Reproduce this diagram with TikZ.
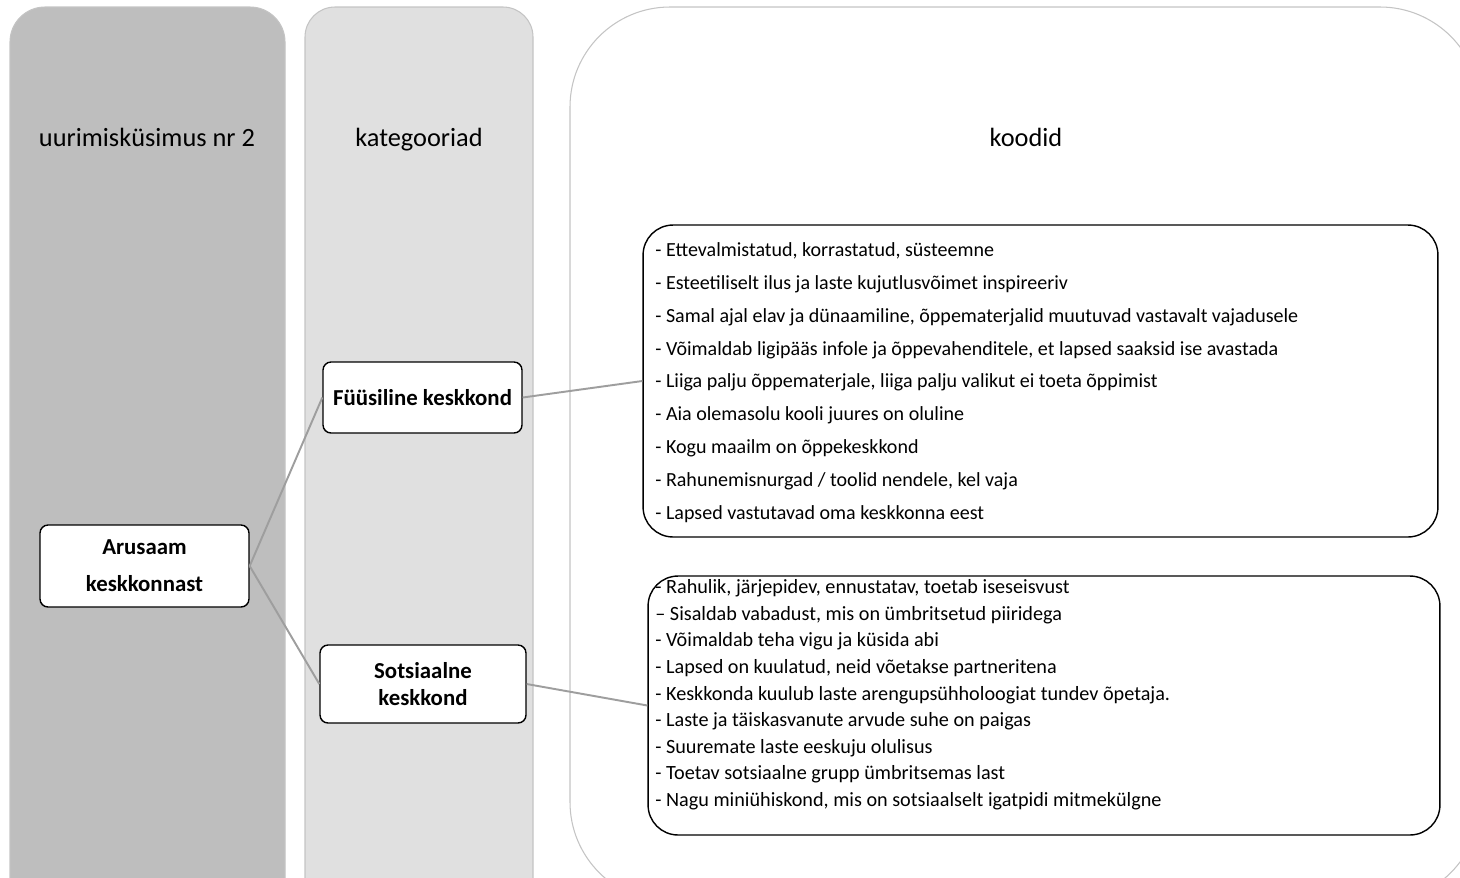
\documentclass[tikz,border=0pt]{standalone}
\usepackage{fontspec}
\setmainfont{Carlito}
\usepackage{xcolor}
\definecolor{colonedark}{HTML}{BEBEBE}
\definecolor{coltwolight}{HTML}{E0E0E0}
\definecolor{colframe}{HTML}{C4C4C4}
\definecolor{linkgray}{HTML}{9E9E9E}

\begin{document}
\begin{tikzpicture}[
  x=0.02cm,
  y=-0.02cm,
  column/.style={
    draw=colframe,
    line width=0.6pt
  },
  heading/.style={
    anchor=base,
    font=\fontsize{15}{18}\selectfont
  },
  catbox/.style={
    draw=black,
    fill=white,
    line width=0.8pt,
    rounded corners=0.16cm,
    align=center,
    inner sep=0pt,
    font=\bfseries\fontsize{13}{15}\selectfont
  },
  codebox/.style={
    draw=black,
    fill=white,
    line width=0.8pt,
    rounded corners=0.6cm,
    inner sep=0pt
  },
  codelist/.style={
    align=left,
    inner sep=0pt,
    anchor=north west
  },
  link/.style={
    draw=linkgray,
    line width=1.1pt
  }
]
  \useasboundingbox (0,0) rectangle (1460,877);
  \clip (0,0) rectangle (1460,877);

  \draw[column,fill=colonedark,rounded corners=0.7cm] (10,7) rectangle (285,960);
  \draw[column,fill=coltwolight,rounded corners=0.6cm] (305,7) rectangle (533,960);
  \draw[column,fill=white,rounded corners=2cm] (570,7) rectangle (1480,902);

  \node[heading] (hquestion) at (147,146) {uurimisküsimus nr 2};
  \node[heading] (hcategory) at (419,146) {kategooriad};
  \node[heading] (hcodes) at (1026,146) {koodid};

  \node[catbox,minimum width=4.18cm,minimum height=1.64cm,
    font=\bfseries\fontsize{13}{21}\selectfont] (arusaam) at (144.5,566)
    {Arusaam\\keskkonnast};
  \node[catbox,minimum width=3.98cm,minimum height=1.42cm] (fyys) at (422.5,397.5)
    {Füüsiline keskkond};
  \node[catbox,minimum width=4.12cm,minimum height=1.56cm] (sots) at (423,684)
    {Sotsiaalne\\keskkond};

  \node[codebox,minimum width=15.9cm,minimum height=6.24cm] (fyysbox) at (1040.5,381) {};
  \node[codebox,minimum width=15.84cm,minimum height=5.18cm] (sotsbox) at (1044,705.5) {};

  \node[codelist,font=\fontsize{11.4}{18.66}\selectfont] (fyyslist) at (655,242.5)
    {- Ettevalmistatud, korrastatud, süsteemne\\
     - Esteetiliselt ilus ja laste kujutlusvõimet inspireeriv\\
     - Samal ajal elav ja dünaamiline, õppematerjalid muutuvad vastavalt vajadusele\\
     - Võimaldab ligipääs infole ja õppevahenditele, et lapsed saaksid ise avastada\\
     - Liiga palju õppematerjale, liiga palju valikut ei toeta õppimist\\
     - Aia olemasolu kooli juures on oluline\\
     - Kogu maailm on õppekeskkond\\
     - Rahunemisnurgad / toolid nendele, kel vaja\\
     - Lapsed vastutavad oma keskkonna eest};
  \node[codelist,font=\fontsize{11.5}{15.1}\selectfont] (sotslist) at (655,579.5)
    {- Rahulik, järjepidev, ennustatav, toetab iseseisvust\\
     -- Sisaldab vabadust, mis on ümbritsetud piiridega\\
     - Võimaldab teha vigu ja küsida abi\\
     - Lapsed on kuulatud, neid võetakse partneritena\\
     - Keskkonda kuulub laste arengupsühholoogiat tundev õpetaja.\\
     - Laste ja täiskasvanute arvude suhe on paigas\\
     - Suuremate laste eeskuju olulisus\\
     - Toetav sotsiaalne grupp ümbritsemas last\\
     - Nagu miniühiskond, mis on sotsiaalselt igatpidi mitmekülgne};

  \draw[link] (arusaam.east) -- (fyys.west);
  \draw[link] (arusaam.east) -- (sots.west);
  \draw[link] (fyys.east) -- (fyysbox.west);
  \draw[link] (sots.east) -- (sotsbox.west);
\end{tikzpicture}
\end{document}
